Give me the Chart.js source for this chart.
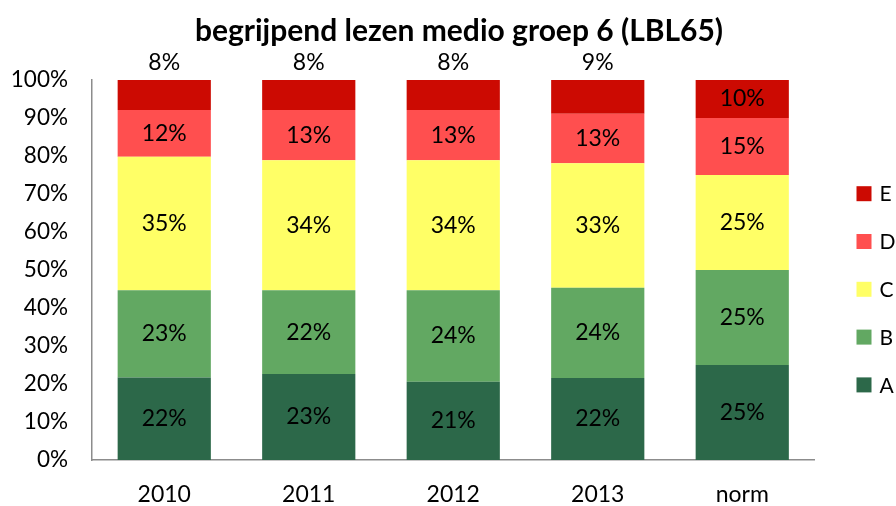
<!DOCTYPE html>
<html>
<head>
<meta charset="utf-8">
<script src="https://cdn.jsdelivr.net/npm/chart.js@4/dist/chart.umd.min.js"></script>
<style>
  html, body { margin: 0; padding: 0; background: #fff; }
  #wrap { width: 896px; height: 506px; }
</style>
</head>
<body>
<div id="wrap"><canvas id="c" width="896" height="506"></canvas></div>
<script>
const categories = ['2010', '2011', '2012', '2013', 'norm'];
const seriesA = [21.7, 22.6, 20.6, 21.6, 25];
const seriesB = [23.0, 22.1, 24.1, 23.7, 25];
const seriesC = [35.1, 34.2, 34.2, 32.8, 25];
const seriesD = [12.3, 13.2, 13.2, 13.0, 15];
const seriesE = [7.9, 7.9, 7.9, 8.9, 10];
const yTicks = [0, 10, 20, 30, 40, 50, 60, 70, 80, 90, 100];
const titleText = 'begrijpend lezen medio groep 6 (LBL65)';

const FONT = 'Lato, Carlito, Calibri, "Noto Sans", sans-serif';

const barLabels = {
  id: 'barLabels',
  afterDatasetsDraw(chart) {
    const ctx = chart.ctx;
    ctx.save();
    ctx.font = '23px ' + FONT;
    ctx.fillStyle = '#000';
    ctx.textAlign = 'center';
    ctx.textBaseline = 'middle';
    chart.data.datasets.forEach((ds, di) => {
      const meta = chart.getDatasetMeta(di);
      meta.data.forEach((el, i) => {
        const v = ds.data[i];
        let y = (el.y + el.base) / 2;
        if (ds.label === 'E' && v < 9.5) y = el.y - 17;
        ctx.fillText(Math.round(v) + '%', el.x, y);
      });
    });
    ctx.restore();
  }
};

const titleShift = {
  id: 'titleShift',
  afterLayout(chart) {
    const t = chart.titleBlock;
    if (t) { t.left = 22; t.right = chart.width; }
  }
};

const sideLegend = {
  id: 'sideLegend',
  afterDraw(chart) {
    const ctx = chart.ctx;
    const area = chart.chartArea;
    const items = chart.data.datasets.slice().reverse();
    const spacing = 47.8;
    const midY = (area.top + area.bottom) / 2 + 19.3;
    const startY = midY - spacing * (items.length - 1) / 2;
    const x = area.right + 42;
    ctx.save();
    ctx.font = '21px ' + FONT;
    ctx.textAlign = 'left';
    ctx.textBaseline = 'middle';
    items.forEach((ds, i) => {
      const cy = startY + i * spacing;
      ctx.fillStyle = ds.backgroundColor;
      ctx.fillRect(x, cy - 7.5, 15, 15);
      ctx.fillStyle = '#000';
      ctx.fillText(ds.label, x + 23, cy + 1);
    });
    ctx.restore();
  }
};

new Chart(document.getElementById('c'), {
  type: 'bar',
  data: {
    labels: categories,
    datasets: [
      { label: 'A', data: seriesA, backgroundColor: '#2C6849' },
      { label: 'B', data: seriesB, backgroundColor: '#62A862' },
      { label: 'C', data: seriesC, backgroundColor: '#FFFF66' },
      { label: 'D', data: seriesD, backgroundColor: '#FF4F4F' },
      { label: 'E', data: seriesE, backgroundColor: '#CC0A02' }
    ]
  },
  options: {
    responsive: false,
    animation: false,
    devicePixelRatio: 1,
    layout: { padding: { left: 0, right: 81.5, top: 0, bottom: 0 } },
    datasets: {
      bar: { categoryPercentage: 1.0, barPercentage: 0.645, borderWidth: 0 }
    },
    plugins: {
      legend: { display: false },
      tooltip: { enabled: false },
      title: {
        display: true,
        text: titleText,
        color: '#000',
        font: { family: FONT, size: 30, weight: 'bold', lineHeight: 1.2 },
        padding: { top: 13, bottom: 31 }
      }
    },
    scales: {
      x: {
        stacked: true,
        grid: { display: false, drawTicks: false },
        border: { display: true, color: '#8C8C8C', width: 1.5 },
        ticks: { color: '#000', font: { family: FONT, size: 23 }, padding: 21 },
        afterFit(scale) { scale.height = 46; }
      },
      y: {
        stacked: true,
        min: 0,
        max: 100,
        grid: { display: false, drawTicks: false },
        border: { display: true, color: '#8C8C8C', width: 1.5 },
        afterBuildTicks(scale) { scale.ticks = yTicks.map(v => ({ value: v })); },
        ticks: {
          color: '#000',
          font: { family: FONT, size: 22.5 },
          padding: 24,
          callback: v => v + '%'
        },
        afterFit(scale) { scale.width = 92; }
      }
    }
  },
  plugins: [barLabels, titleShift, sideLegend]
});
</script>
</body>
</html>
